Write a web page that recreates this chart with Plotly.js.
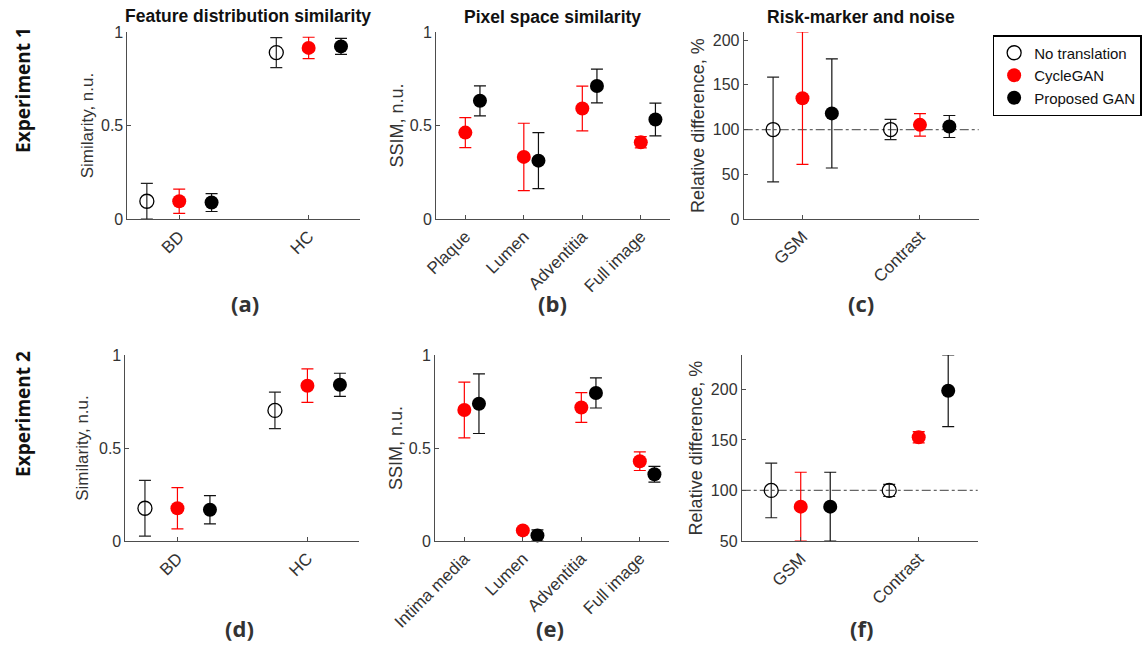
<!DOCTYPE html>
<html>
<head>
<meta charset="utf-8">
<script src="https://cdn.plot.ly/plotly-3.0.1.min.js"></script>
<style>
  html, body { margin: 0; padding: 0; background: #ffffff; }
  #chart { width: 1142px; height: 646px; }
</style>
</head>
<body>
<div id="chart"></div>
<script>
// ---------- DATA ----------
const seriesNames = ['No translation', 'CycleGAN', 'Proposed GAN'];

// (a) Experiment 1 - feature distribution similarity
const catsA = ['BD', 'HC'];
const aNoTrans = [0.095, 0.89];   const aNoTransErr = [0.095, 0.08];
const aCycle   = [0.095, 0.915];  const aCycleErr   = [0.065, 0.057];
const aProp    = [0.088, 0.923];  const aPropErr    = [0.048, 0.043];

// (b) Experiment 1 - pixel space similarity
const catsB = ['Plaque', 'Lumen', 'Adventitia', 'Full image'];
const bCycle = [0.462, 0.332, 0.591, 0.41];  const bCycleErr = [0.08, 0.18, 0.12, 0.03];
const bProp  = [0.632, 0.312, 0.711, 0.532]; const bPropErr  = [0.08, 0.15, 0.09, 0.088];

// (c) Experiment 1 - risk-marker and noise
const catsC = ['GSM', 'Contrast'];
const cNoTrans = [100, 100];   const cNoTransErr = [58.6, 11.3];
const cCycle   = [135, 105.2]; const cCycleErr   = [74, 12.5];
const cProp    = [118, 103.4]; const cPropErr    = [61, 12.3];

// (d) Experiment 2 - feature distribution similarity
const catsD = ['BD', 'HC'];
const dNoTrans = [0.176, 0.702]; const dNoTransErr = [0.15, 0.098];
const dCycle   = [0.176, 0.835]; const dCycleErr   = [0.111, 0.09];
const dProp    = [0.168, 0.84];  const dPropErr    = [0.076, 0.062];

// (e) Experiment 2 - pixel space similarity
const catsE = ['Intima media', 'Lumen', 'Adventitia', 'Full image'];
const eCycle = [0.704, 0.057, 0.718, 0.429]; const eCycleErr = [0.15, 0.012, 0.08, 0.05];
const eProp  = [0.738, 0.03, 0.796, 0.359];  const ePropErr  = [0.16, 0.03, 0.081, 0.042];

// (f) Experiment 2 - risk-marker and noise
const catsF = ['GSM', 'Contrast'];
const fNoTrans = [100, 100];   const fNoTransErr = [27, 6];
const fCycle   = [84, 152.6];  const fCycleErr   = [34, 5.5];
const fProp    = [84, 198.7];  const fPropErr    = [34, 35.5];

const refLine = 100;

// ---------- STYLE ----------
const RED = '#ff0000';
const BLK = '#000000';
const AX = '#4d4d4d';
const TXT = '#333333';
const FONT = "'Liberation Sans', Arial, sans-serif";
const BOLD = "'Open Sans', sans-serif";
const offsets = [-0.25, 0, 0.25];

function pos(cats, k) { return cats.map((c, i) => i + 1 + offsets[k]); }

function tr(cats, vals, errs, k, xa, ya, showLegend) {
  const open = k === 0;
  const col = k === 1 ? RED : BLK;
  return {
    type: 'scatter', mode: 'markers',
    x: pos(cats, k), y: vals,
    xaxis: xa, yaxis: ya,
    name: seriesNames[k], legendgroup: seriesNames[k], showlegend: !!showLegend,
    marker: open
      ? { symbol: 'circle-open', size: 14, color: BLK, line: { width: 1.3, color: BLK } }
      : { symbol: 'circle', size: 14, color: col, line: { width: 0 } },
    error_y: { type: 'data', array: errs, visible: true, color: open ? '#222' : (k === 1 ? RED : '#111'), thickness: 1.2, width: 6 },
    cliponaxis: false
  };
}

const traces = [
  tr(catsA, aNoTrans, aNoTransErr, 0, 'x', 'y', true),
  tr(catsA, aCycle, aCycleErr, 1, 'x', 'y', true),
  tr(catsA, aProp, aPropErr, 2, 'x', 'y', true),
  tr(catsB, bCycle, bCycleErr, 1, 'x2', 'y2'),
  tr(catsB, bProp, bPropErr, 2, 'x2', 'y2'),
  tr(catsC, cNoTrans, cNoTransErr, 0, 'x3', 'y3'),
  tr(catsC, cCycle, cCycleErr, 1, 'x3', 'y3'),
  tr(catsC, cProp, cPropErr, 2, 'x3', 'y3'),
  tr(catsD, dNoTrans, dNoTransErr, 0, 'x4', 'y4'),
  tr(catsD, dCycle, dCycleErr, 1, 'x4', 'y4'),
  tr(catsD, dProp, dPropErr, 2, 'x4', 'y4'),
  tr(catsE, eCycle, eCycleErr, 1, 'x5', 'y5'),
  tr(catsE, eProp, ePropErr, 2, 'x5', 'y5'),
  tr(catsF, fNoTrans, fNoTransErr, 0, 'x6', 'y6'),
  tr(catsF, fCycle, fCycleErr, 1, 'x6', 'y6'),
  tr(catsF, fProp, fPropErr, 2, 'x6', 'y6')
];

const W = 1142, H = 646;
function dx(a, b) { return [a / W, b / W]; }
function dy(top, bottom) { return [1 - bottom / H, 1 - top / H]; }

function xax(cats, dom, anchor, range) {
  return {
    domain: dom, anchor: anchor, range: range,
    tickvals: cats.map((c, i) => i + 1), ticktext: cats,
    tickangle: -45, ticks: 'inside', ticklen: 4, tickcolor: AX,
    showline: true, linecolor: AX, linewidth: 1, mirror: false,
    showgrid: false, zeroline: false,
    tickfont: { family: FONT, size: 17, color: TXT }, fixedrange: true
  };
}
function yax(dom, anchor, range, tickvals, ticktext, title, tsize, standoff) {
  return {
    domain: dom, anchor: anchor, range: range,
    tickvals: tickvals, ticktext: ticktext,
    ticks: 'inside', ticklen: 4, tickcolor: AX,
    showline: true, linecolor: AX, linewidth: 1,
    showgrid: false, zeroline: false,
    tickfont: { family: FONT, size: 16, color: TXT },
    title: { text: title, font: { family: FONT, size: tsize, color: TXT }, standoff: standoff },
    fixedrange: true
  };
}

const row1 = dy(32, 219), row2 = dy(355, 541);
function ann(text, x, y, font, angle) {
  return { text: text, x: x / W, y: 1 - y / H, xref: 'paper', yref: 'paper', showarrow: false,
           textangle: angle || 0, font: font, xanchor: 'center', yanchor: 'middle' };
}
const titleFont = { family: FONT, size: 17.5, color: '#111' };
const expFont = { family: BOLD, size: 19, color: '#111' };
const lblFont = { family: BOLD, size: 22, color: '#333' };

const layout = {
  width: W, height: H,
  margin: { l: 0, r: 0, t: 0, b: 0 },
  paper_bgcolor: '#ffffff', plot_bgcolor: 'rgba(0,0,0,0)',
  showlegend: true,
  legend: {
    x: 997 / W, y: 1 - 35 / H, xanchor: 'left', yanchor: 'top',
    bordercolor: '#000', borderwidth: 1.5, bgcolor: '#fff',
    font: { family: FONT, size: 15, color: '#111' },
    tracegroupgap: 0, itemwidth: 30
  },
  xaxis:  xax(catsA, dx(128, 362), 'y',  [0.6, 2.4]),
  xaxis2: xax(catsB, dx(438, 673), 'y2', [0.5, 4.5]),
  xaxis3: xax(catsC, dx(747, 983), 'y3', [0.5, 2.5]),
  xaxis4: xax(catsD, dx(126, 361), 'y4', [0.6, 2.4]),
  xaxis5: xax(catsE, dx(437, 672), 'y5', [0.5, 4.5]),
  xaxis6: xax(catsF, dx(745, 982), 'y6', [0.5, 2.5]),
  yaxis:  yax(row1, 'x',  [0, 1], [0, 0.5, 1], ['0', '0.5', '1'], 'Similarity, n.u.', 17, 3),
  yaxis2: yax(row1, 'x2', [0, 1], [0, 0.5, 1], ['0', '0.5', '1'], 'SSIM, n.u.', 18, 1),
  yaxis3: yax(row1, 'x3', [0, 209], [0, 50, 100, 150, 200], ['0', '50', '100', '150', '200'], 'Relative difference, %', 18, 3),
  yaxis4: yax(row2, 'x4', [0, 1], [0, 0.5, 1], ['0', '0.5', '1'], 'Similarity, n.u.', 17, 6),
  yaxis5: yax(row2, 'x5', [0, 1], [0, 0.5, 1], ['0', '0.5', '1'], 'SSIM, n.u.', 18, 1),
  yaxis6: yax(row2, 'x6', [50, 234], [50, 100, 150, 200], ['50', '100', '150', '200'], 'Relative difference, %', 18, 3),
  shapes: [
    { type: 'line', xref: 'x3 domain', yref: 'y3', x0: 0, x1: 1, y0: refLine, y1: refLine,
      line: { color: '#666', width: 1.2, dash: 'dashdot' }, layer: 'below' },
    { type: 'line', xref: 'x6 domain', yref: 'y6', x0: 0, x1: 1, y0: refLine, y1: refLine,
      line: { color: '#666', width: 1.2, dash: 'dashdot' }, layer: 'below' }
  ],
  annotations: [
    ann('<b>Feature distribution similarity</b>', 249, 16, titleFont),
    ann('<b>Pixel space similarity</b>', 555, 17, titleFont),
    ann('<b>Risk-marker and noise</b>', 865, 17, titleFont),
    ann('<b>Experiment 1</b>', 23, 90, expFont, -90),
    ann('<b>Experiment 2</b>', 23, 414, expFont, -90),
    ann('<b>(a)</b>', 246, 303, lblFont),
    ann('<b>(b)</b>', 555, 303, lblFont),
    ann('<b>(c)</b>', 865, 303, lblFont),
    ann('<b>(d)</b>', 241, 628, lblFont),
    ann('<b>(e)</b>', 552, 628, lblFont),
    ann('<b>(f)</b>', 865, 628, lblFont)
  ]
};

Plotly.newPlot('chart', traces, layout, { displayModeBar: false, staticPlot: true });
</script>
</body>
</html>
